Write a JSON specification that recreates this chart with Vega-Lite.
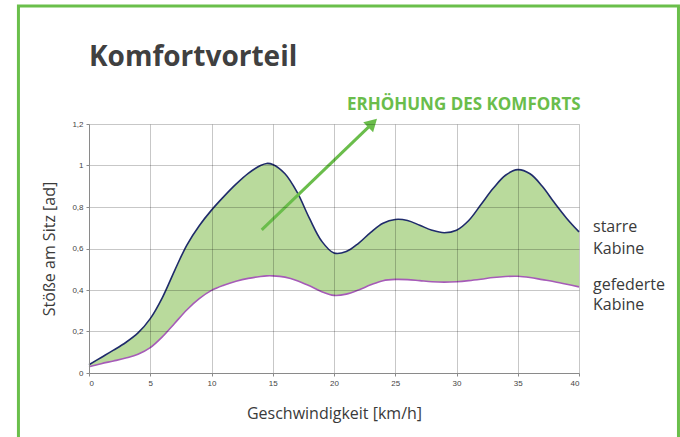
{
  "$schema": "https://vega.github.io/schema/vega-lite/v6.json",
  "width": 490,
  "height": 249,
  "autosize": "none",
  "padding": {"left": 89, "top": 124, "right": 101, "bottom": 64},
  "background": "white",
  "config": {"view": {"stroke": null}},
  "datasets": {
    "curves": [
      {"v": 0, "starr": 0.04, "gefedert": 0.03},
      {"v": 1, "starr": 0.075, "gefedert": 0.045},
      {"v": 2, "starr": 0.11, "gefedert": 0.058},
      {"v": 3, "starr": 0.147, "gefedert": 0.072},
      {"v": 4, "starr": 0.193, "gefedert": 0.09},
      {"v": 5, "starr": 0.262, "gefedert": 0.122},
      {"v": 6, "starr": 0.365, "gefedert": 0.175},
      {"v": 7, "starr": 0.495, "gefedert": 0.24},
      {"v": 8, "starr": 0.618, "gefedert": 0.305},
      {"v": 9, "starr": 0.71, "gefedert": 0.358},
      {"v": 10, "starr": 0.785, "gefedert": 0.398},
      {"v": 11, "starr": 0.85, "gefedert": 0.423},
      {"v": 12, "starr": 0.91, "gefedert": 0.442},
      {"v": 13, "starr": 0.962, "gefedert": 0.456},
      {"v": 14, "starr": 1.0, "gefedert": 0.465},
      {"v": 14.5, "starr": 1.01, "gefedert": 0.468},
      {"v": 15, "starr": 1.005, "gefedert": 0.468},
      {"v": 16, "starr": 0.96, "gefedert": 0.462},
      {"v": 17, "starr": 0.87, "gefedert": 0.445},
      {"v": 18, "starr": 0.745, "gefedert": 0.42},
      {"v": 19, "starr": 0.635, "gefedert": 0.392},
      {"v": 20, "starr": 0.578, "gefedert": 0.374},
      {"v": 21, "starr": 0.585, "gefedert": 0.38},
      {"v": 22, "starr": 0.625, "gefedert": 0.4},
      {"v": 23, "starr": 0.678, "gefedert": 0.425},
      {"v": 24, "starr": 0.722, "gefedert": 0.445},
      {"v": 25, "starr": 0.74, "gefedert": 0.451},
      {"v": 26, "starr": 0.735, "gefedert": 0.45},
      {"v": 27, "starr": 0.712, "gefedert": 0.445},
      {"v": 28, "starr": 0.688, "gefedert": 0.44},
      {"v": 29, "starr": 0.676, "gefedert": 0.438},
      {"v": 30, "starr": 0.688, "gefedert": 0.44},
      {"v": 31, "starr": 0.735, "gefedert": 0.445},
      {"v": 32, "starr": 0.812, "gefedert": 0.452},
      {"v": 33, "starr": 0.89, "gefedert": 0.46},
      {"v": 34, "starr": 0.953, "gefedert": 0.465},
      {"v": 35, "starr": 0.98, "gefedert": 0.466},
      {"v": 36, "starr": 0.96, "gefedert": 0.46},
      {"v": 37, "starr": 0.9, "gefedert": 0.45},
      {"v": 38, "starr": 0.82, "gefedert": 0.44},
      {"v": 39, "starr": 0.745, "gefedert": 0.428},
      {"v": 40, "starr": 0.68, "gefedert": 0.415}
    ],
    "labels": [
      {"v": 40, "y": 0.681, "t": "starre"},
      {"v": 40, "y": 0.573, "t": "Kabine"},
      {"v": 40, "y": 0.4, "t": "gefederte"},
      {"v": 40, "y": 0.304, "t": "Kabine"}
    ]
  },
  "layer": [
    {
      "data": {"name": "curves"},
      "mark": {"type": "area", "interpolate": "catmull-rom", "color": "#b9da9c", "opacity": 1},
      "encoding": {
        "x": {
          "field": "v", "type": "quantitative",
          "scale": {"domain": [0, 40], "nice": false},
          "axis": {
            "title": "Geschwindigkeit [km/h]",
            "values": [0, 5, 10, 15, 20, 25, 30, 35, 40],
            "zindex": 1,
            "grid": true, "gridColor": "#000000", "gridOpacity": 0.22, "gridWidth": 1,
            "domainColor": "#8a8a8a", "domainWidth": 1,
            "ticks": true, "tickColor": "#8a8a8a", "tickSize": 3,
            "labelFont": "Liberation Sans", "labelFontSize": 8, "labelColor": "#444444", "labelPadding": 3,
            "titleFont": "Open Sans", "titleFontSize": 16, "titleFontWeight": "normal", "titleColor": "#3a3a3a", "titlePadding": 18
          }
        },
        "y": {
          "field": "starr", "type": "quantitative",
          "scale": {"domain": [0, 1.2], "nice": false},
          "axis": {
            "title": "Stöße am Sitz [ad]",
            "values": [0, 0.2, 0.4, 0.6, 0.8, 1, 1.2],
            "labelExpr": "replace(format(datum.value, '.1~f'), '.', ',')",
            "zindex": 1,
            "grid": true, "gridColor": "#000000", "gridOpacity": 0.22, "gridWidth": 1,
            "domainColor": "#8a8a8a", "domainWidth": 1,
            "ticks": true, "tickColor": "#8a8a8a", "tickSize": 3,
            "labelFont": "Liberation Sans", "labelFontSize": 8, "labelColor": "#444444", "labelPadding": 3,
            "titleFont": "Open Sans", "titleFontSize": 16, "titleFontWeight": "normal", "titleColor": "#3a3a3a", "titlePadding": 14
          }
        },
        "y2": {"field": "gefedert"}
      }
    },
    {
      "data": {"name": "curves"},
      "mark": {"type": "line", "interpolate": "catmull-rom", "color": "#1f2b6b", "strokeWidth": 1.6},
      "encoding": {
        "x": {"field": "v", "type": "quantitative"},
        "y": {"field": "starr", "type": "quantitative"}
      }
    },
    {
      "data": {"name": "curves"},
      "mark": {"type": "line", "interpolate": "catmull-rom", "color": "#a65bb8", "strokeWidth": 1.6},
      "encoding": {
        "x": {"field": "v", "type": "quantitative"},
        "y": {"field": "gefedert", "type": "quantitative"}
      }
    },
    {
      "data": {"values": [{}]},
      "mark": {"type": "rule", "color": "#6abd4b", "strokeWidth": 3, "clip": false},
      "encoding": {
        "x": {"datum": 14.1},
        "y": {"datum": 0.69},
        "x2": {"datum": 22.9},
        "y2": {"datum": 1.19}
      }
    },
    {
      "data": {"values": [{}]},
      "mark": {"type": "point", "shape": "triangle-up", "filled": true, "color": "#6abd4b", "size": 200, "angle": 46, "opacity": 1},
      "encoding": {
        "x": {"datum": 23.15},
        "y": {"datum": 1.205}
      }
    },
    {
      "data": {"values": [{"t": "ERHÖHUNG DES KOMFORTS"}]},
      "mark": {"type": "text", "align": "left", "baseline": "alphabetic", "font": "Open Sans", "fontSize": 17, "fontWeight": "bold", "color": "#6abd4b"},
      "encoding": {
        "x": {"datum": 21.06},
        "y": {"datum": 1.267},
        "text": {"field": "t"}
      }
    },
    {
      "data": {"values": [{"t": "Komfortvorteil"}]},
      "mark": {"type": "text", "align": "left", "baseline": "alphabetic", "font": "Open Sans", "fontSize": 28, "fontWeight": "bold", "color": "#404040"},
      "encoding": {
        "x": {"datum": 0},
        "y": {"datum": 1.48},
        "text": {"field": "t"}
      }
    },
    {
      "data": {"name": "labels"},
      "mark": {"type": "text", "align": "left", "baseline": "alphabetic", "dx": 14, "font": "Open Sans", "fontSize": 16, "color": "#3a3a3a"},
      "encoding": {
        "x": {"field": "v", "type": "quantitative"},
        "y": {"field": "y", "type": "quantitative"},
        "text": {"field": "t"}
      }
    },
    {
      "data": {"values": [{}]},
      "mark": {"type": "rect", "fill": null, "fillOpacity": 0, "stroke": "#6abf4b", "strokeWidth": 3, "clip": false},
      "encoding": {
        "x": {"datum": -5.76},
        "x2": {"datum": 48.12},
        "y": {"datum": 1.769},
        "y2": {"datum": -0.4}
      }
    }
  ]
}
